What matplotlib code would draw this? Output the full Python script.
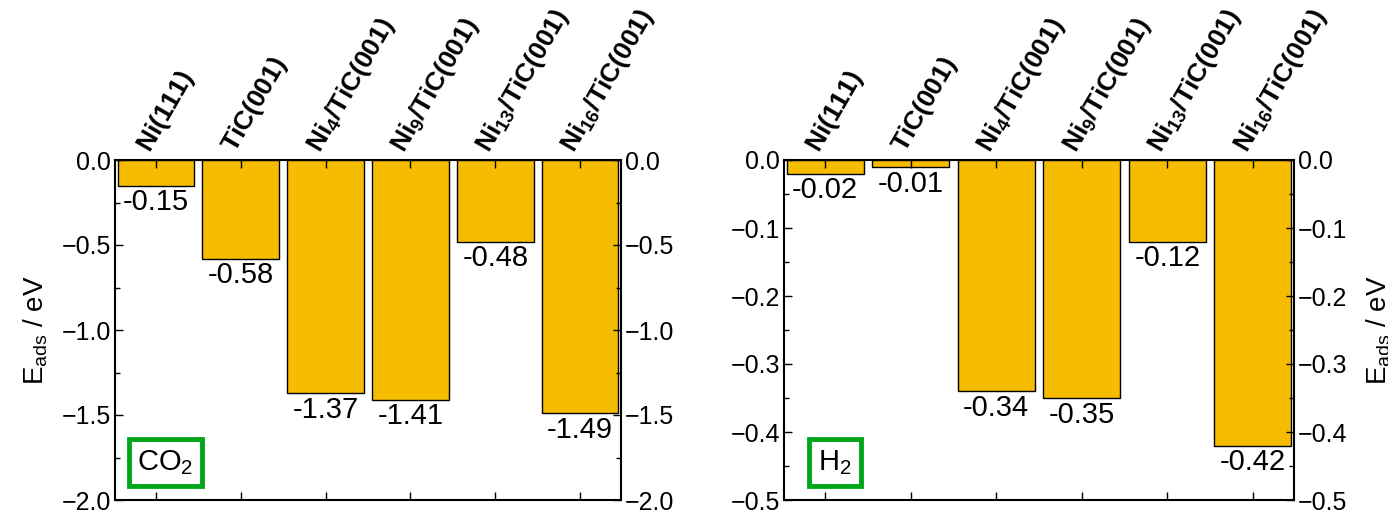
import matplotlib
matplotlib.use("Agg")
import matplotlib.pyplot as plt
from matplotlib.ticker import MultipleLocator

plt.rcParams['font.family'] = ['Liberation Sans', 'DejaVu Sans']
plt.rcParams['mathtext.fontset'] = 'custom'
plt.rcParams['mathtext.rm'] = 'Liberation Sans'
plt.rcParams['mathtext.bf'] = 'Liberation Sans:bold'
plt.rcParams['mathtext.it'] = 'Liberation Sans:italic'

surfaces = [r'$\mathbf{Ni(111)}$', r'$\mathbf{TiC(001)}$',
            r'$\mathbf{Ni_4/TiC(001)}$', r'$\mathbf{Ni_9/TiC(001)}$',
            r'$\mathbf{Ni_{13}/TiC(001)}$', r'$\mathbf{Ni_{16}/TiC(001)}$']
e_co2 = [-0.15, -0.58, -1.37, -1.41, -0.48, -1.49]
e_h2 = [-0.02, -0.01, -0.34, -0.35, -0.12, -0.42]

bar_color = '#F6BD00'
box_green = '#00A61A'


def panel(ax, vals, ymin, major, minor, name):
    x = range(len(vals))
    ax.bar(x, vals, width=0.9, color=bar_color, edgecolor='black', linewidth=1.0)
    for xi, v in zip(x, vals):
        ax.annotate('%.2f' % v, (xi, v), xytext=(0, -2), textcoords='offset points',
                    ha='center', va='top', fontsize=21)
    ax.set_xlim(-0.48, len(vals) - 0.52)
    ax.set_ylim(ymin, 0)
    ax.yaxis.set_major_locator(MultipleLocator(major))
    ax.yaxis.set_minor_locator(MultipleLocator(minor))
    ax.set_xticks(list(x))
    ax.set_xticklabels(surfaces, rotation=60, ha='left', va='bottom',
                       rotation_mode='anchor', fontsize=19)
    ax.tick_params(axis='x', which='both', direction='in', top=True, bottom=True,
                   labeltop=True, labelbottom=False, length=6, width=1, pad=2)
    ax.tick_params(axis='y', which='major', direction='in', left=True, right=True,
                   labelleft=True, labelright=True, length=6, width=1, labelsize=18, pad=3)
    ax.tick_params(axis='y', which='minor', direction='in', left=True, right=True,
                   length=3.5, width=1)
    for s in ax.spines.values():
        s.set_linewidth(1.5)
    ax.text(0.1, 0.11, name, transform=ax.transAxes, ha='center', va='center',
            fontsize=21,
            bbox=dict(boxstyle='square,pad=0.3', facecolor='white',
                      edgecolor=box_green, linewidth=3.5))


fig = plt.figure(figsize=(13.88, 5.13), dpi=100)
ax1 = fig.add_axes([115 / 1388, 13 / 513, 506 / 1388, 340 / 513])
ax2 = fig.add_axes([784 / 1388, 13 / 513, 510 / 1388, 340 / 513])

panel(ax1, e_co2, -2.0, 0.5, 0.25, r'CO$_2$')
panel(ax2, e_h2, -0.5, 0.1, 0.05, r'H$_2$')

ax1.set_ylabel(r'E$_{\rm ads}$ / eV', fontsize=20, labelpad=8)
ax2.yaxis.set_label_position('right')
ax2.set_ylabel(r'E$_{\rm ads}$ / eV', fontsize=20, labelpad=12, rotation=90)

fig.savefig('out.png', dpi=100)
